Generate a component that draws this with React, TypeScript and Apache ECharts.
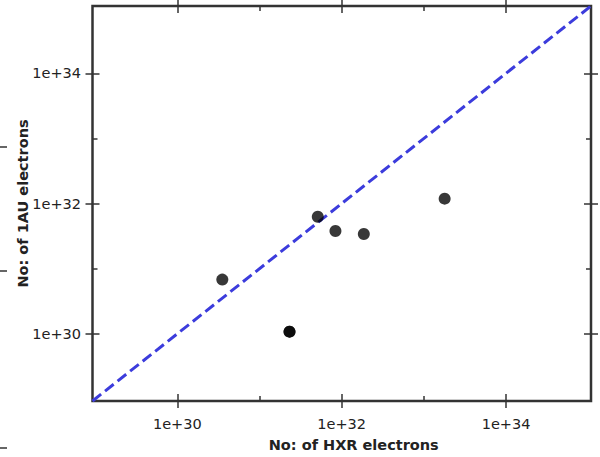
import React, { useEffect, useRef } from "react";
import * as echarts from "echarts";

// Axis range (both axes share the same log range)
const AXIS_MIN = 9.3e28;
const AXIS_MAX = 1.08e35;
const MAJOR_TICKS = [1e30, 1e32, 1e34];
const MINOR_TICKS = [1e31, 1e33];

// Events: number of HXR electrons vs number of 1AU electrons
const HXR_ELECTRONS = [3.53e30, 2.32e31, 2.32e31, 5.12e31, 8.4e31, 1.86e32, 1.79e33];
const AU_ELECTRONS = [6.8e30, 1.08e30, 1.08e30, 6.28e31, 3.79e31, 3.41e31, 1.19e32];

// 1:1 reference line
const LINE_X = [AXIS_MIN, AXIS_MAX];
const LINE_Y = [AXIS_MIN, AXIS_MAX];

const X_NAME = "No: of HXR electrons";
const Y_NAME = "No: of 1AU electrons";

const FONT = "DejaVu Sans";
const INK = "#333";

function fmt(v: number) {
  return "1e+" + Math.round(Math.log10(v));
}

function makeAxis(
  position: string,
  ticks: number[],
  inside: boolean,
  length: number,
  extra: any = {}
) {
  return {
    type: "log",
    logBase: 10,
    gridIndex: 0,
    position,
    min: AXIS_MIN,
    max: AXIS_MAX,
    axisLine: { show: false },
    splitLine: { show: false },
    minorTick: { show: false },
    axisTick: {
      show: true,
      inside,
      length,
      customValues: ticks,
      lineStyle: { color: INK, width: 1.5 },
    },
    axisLabel: { show: false },
    ...extra,
  };
}

export default function App() {
  const ref = useRef<HTMLDivElement>(null);
  useEffect(() => {
    if (!ref.current) return;
    const chart = echarts.init(ref.current, null, { renderer: "svg" });
    const labelStyle = {
      show: true,
      customValues: MAJOR_TICKS,
      formatter: (v: number) => fmt(v),
      fontFamily: FONT,
      fontSize: 14.5,
      color: "#222",
    };
    const nameStyle = {
      fontFamily: FONT,
      fontSize: 14.5,
      fontWeight: "bold",
      color: "#222",
    };
    chart.setOption({
      animation: false,
      backgroundColor: "#fff",
      grid: {
        left: 92.5,
        right: 9,
        top: 6,
        bottom: 55.3,
        show: true,
        borderColor: INK,
        borderWidth: 2.5,
        backgroundColor: "transparent",
      },
      xAxis: [
        makeAxis("bottom", MAJOR_TICKS, false, 7, {
          axisLabel: { ...labelStyle, margin: 15 },
          name: X_NAME,
          nameLocation: "middle",
          nameGap: 36,
          nameMoveOverlap: false,
          nameTextStyle: { ...nameStyle, padding: [0, 0, 0, 24] },
        }),
        makeAxis("bottom", MAJOR_TICKS, true, 7),
        makeAxis("bottom", MINOR_TICKS, true, 5),
        makeAxis("top", MAJOR_TICKS, false, 7),
        makeAxis("top", MAJOR_TICKS, true, 7),
        makeAxis("top", MINOR_TICKS, true, 5),
      ],
      yAxis: [
        makeAxis("left", MAJOR_TICKS, false, 7, {
          axisLabel: { ...labelStyle, margin: 11.5 },
          name: Y_NAME,
          nameLocation: "middle",
          nameGap: 62,
          nameMoveOverlap: false,
          nameTextStyle: nameStyle,
        }),
        makeAxis("left", MAJOR_TICKS, true, 7),
        makeAxis("left", MINOR_TICKS, true, 5),
        makeAxis("right", MAJOR_TICKS, false, 7),
        makeAxis("right", MAJOR_TICKS, true, 7),
        makeAxis("right", MINOR_TICKS, true, 5),
      ],
      series: [
        {
          type: "line",
          xAxisIndex: 0,
          yAxisIndex: 0,
          data: LINE_X.map((x, i) => [x, LINE_Y[i]]),
          showSymbol: false,
          symbol: "none",
          lineStyle: { color: "#3c3cdc", width: 3, type: [11, 5] },
          silent: true,
          z: 2,
        },
        {
          type: "scatter",
          xAxisIndex: 0,
          yAxisIndex: 0,
          data: HXR_ELECTRONS.map((x, i) => [x, AU_ELECTRONS[i]]),
          symbol: "circle",
          symbolSize: 12,
          itemStyle: { color: "#000", opacity: 0.78 },
          z: 3,
        },
      ],
      graphic: [
        { type: "line", shape: { x1: 0, y1: 147, x2: 7, y2: 147 }, style: { stroke: INK, lineWidth: 1.5 } },
        { type: "line", shape: { x1: 0, y1: 271, x2: 7, y2: 271 }, style: { stroke: INK, lineWidth: 1.5 } },
        { type: "line", shape: { x1: 0, y1: 448, x2: 7, y2: 448 }, style: { stroke: INK, lineWidth: 1.5 } },
      ],
    });
    return () => chart.dispose();
  }, []);
  return (
    <div
      ref={ref}
      style={{ position: "fixed", left: 0, top: 0, width: 600, height: 457 }}
    />
  );
}
